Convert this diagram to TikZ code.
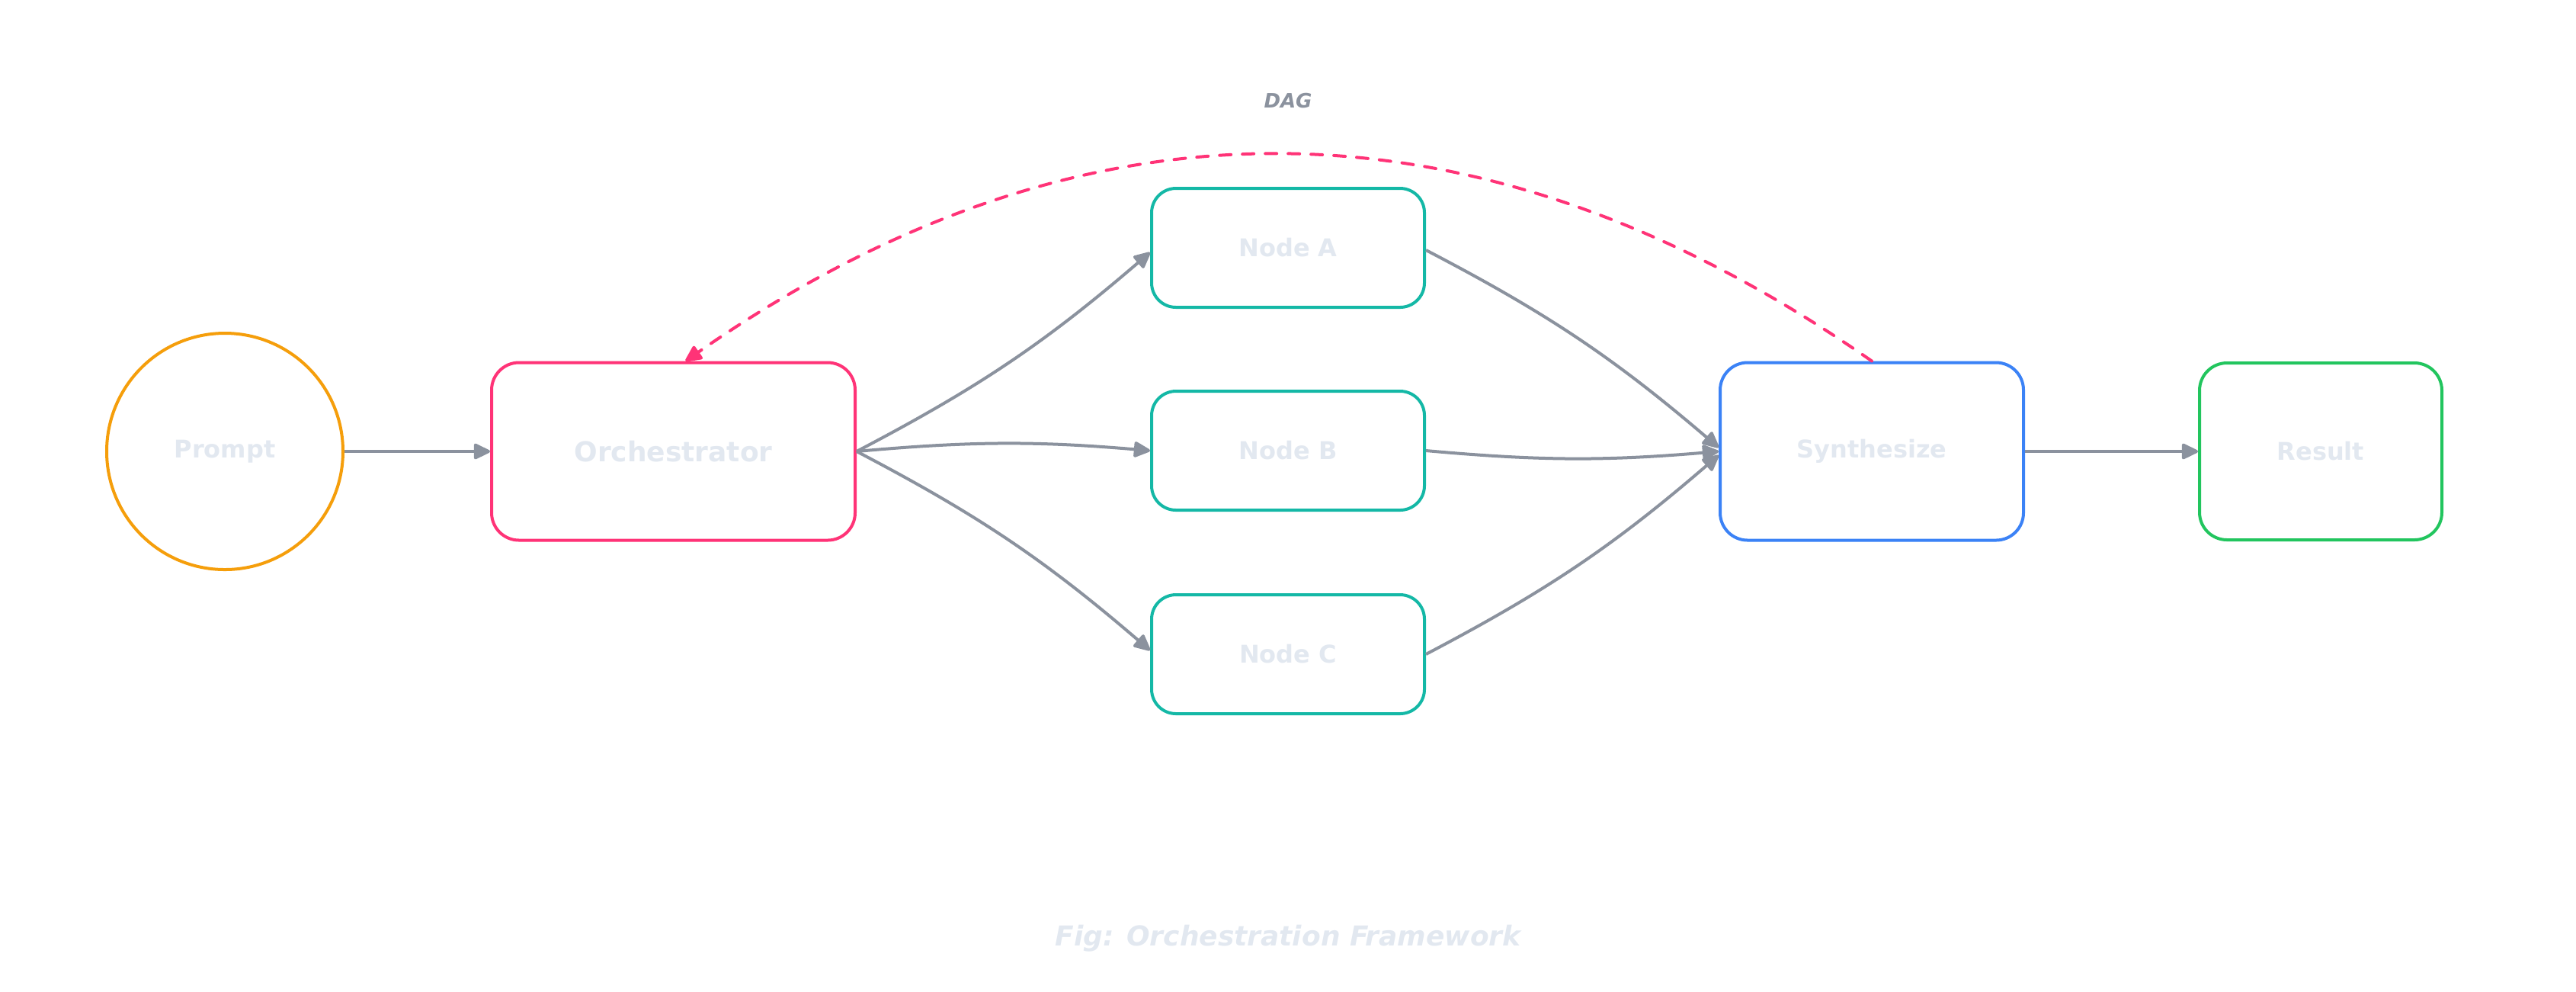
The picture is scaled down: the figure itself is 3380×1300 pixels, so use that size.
\documentclass[tikz,border=0pt]{standalone}
\usepackage{fontspec}
\setmainfont{DejaVu Sans}[BoldFont={DejaVu Sans Bold},ItalicFont={DejaVu Sans Oblique},BoldItalicFont={DejaVu Sans Bold Oblique}]
\usetikzlibrary{arrows.meta}
\definecolor{cOrange}{HTML}{F59E0B}
\definecolor{cPink}{HTML}{FF3377}
\definecolor{cTeal}{HTML}{14B8A6}
\definecolor{cBlue}{HTML}{3B82F6}
\definecolor{cGreen}{HTML}{22C55E}
\definecolor{cGrey}{HTML}{8B929E}
\definecolor{cLabel}{HTML}{E2E8F0}
\begin{document}
\begin{tikzpicture}[x=0.25pt,y=-0.25pt,
  box/.style={draw, line width=1pt, rounded corners=8pt, fill=white, inner sep=0pt,
    text=cLabel, font=\bfseries\fontsize{8}{9.6}\selectfont},
  conn/.style={draw=cGrey, line width=1pt, -{Triangle[length=6pt,width=5.5pt,round]}},
  loopback/.style={draw=cPink, line width=1pt, line cap=round, dash pattern=on 3.75pt off 3.75pt,
    -{Triangle[length=6pt,width=5.5pt,round]}}
]
\useasboundingbox (0,0) rectangle (3380,1300);

\node[circle, draw=cOrange, line width=1pt, minimum size=77.5pt, inner sep=0pt, fill=white,
  text=cLabel, font=\bfseries\fontsize{8}{9.6}\selectfont] (P) at (295,592) {Prompt};
\node[box, draw=cPink, minimum width=119.25pt, minimum height=58.25pt, rounded corners=9pt,
  font=\bfseries\fontsize{9}{10.8}\selectfont] (O) at (883.5,592) {Orchestrator};
\node[box, draw=cTeal, minimum width=89.5pt, minimum height=39pt] (A) at (1690,325) {Node A};
\node[box, draw=cTeal, minimum width=89.5pt, minimum height=39pt] (B) at (1690,591) {Node B};
\node[box, draw=cTeal, minimum width=89.5pt, minimum height=39pt] (C) at (1690,858) {Node C};
\node[box, draw=cBlue, minimum width=99.5pt, minimum height=58.25pt, rounded corners=9pt] (S) at (2456,592) {Synthesize};
\node[box, draw=cGreen, minimum width=79.5pt, minimum height=58pt, rounded corners=9pt] (R) at (3045,592) {Result};

\draw[conn] (P) -- (O);
\draw[conn] (O.east) to[bend right=6.5] ([yshift=-1.5pt]A.west);
\draw[conn] (O.east) to[bend left=5] (B.west);
\draw[conn] (O.east) to[bend left=6.5] ([yshift=1.25pt]C.west);
\draw[conn] ([yshift=-0.75pt]A.east) to[bend left=6.5] ([yshift=1.25pt]S.west);
\draw[conn] (B.east) to[bend right=5] (S.west);
\draw[conn] (C.east) to[bend right=6.5] ([yshift=-1.25pt]S.west);
\draw[conn] (S) -- (R);

\draw[loopback] (S.north) .. controls +(-519,-361) and +(519,-361) .. ([xshift=4pt]O.north);

\node[text=cGrey, font=\bfseries\itshape\fontsize{6.5}{7.8}\selectfont] (dag) at (1690,132) {DAG};
\node[text=cLabel, font=\bfseries\itshape\fontsize{9}{10.8}\selectfont] (cap) at (1690,1231) {Fig: Orchestration Framework};
\end{tikzpicture}
\end{document}
